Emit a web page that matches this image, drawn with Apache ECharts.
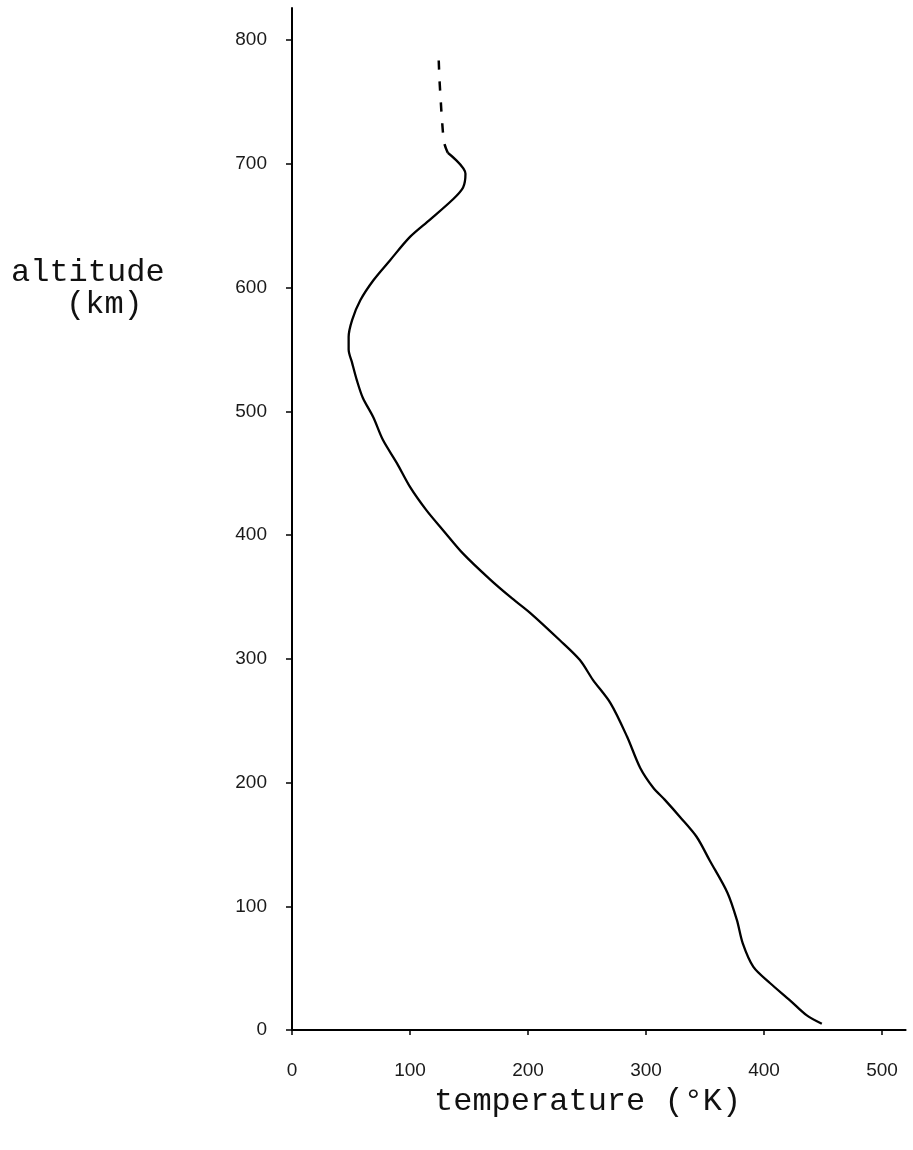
<!DOCTYPE html>
<html>
<head>
<meta charset="utf-8">
<style>
  html, body { margin: 0; padding: 0; background: #fff; }
  #chart { width: 913px; height: 1150px; }
</style>
<script src="https://cdn.jsdelivr.net/npm/echarts@6/dist/echarts.min.js"></script>
</head>
<body>
<div id="chart"></div>
<script>
// Temperature profile with altitude (solid part, measured)
const altitudeSolid = [5, 12, 24, 38, 51, 70, 89, 111, 137, 156, 172, 186, 196, 212, 237, 264, 283, 299, 315, 337, 350, 364, 385, 404, 420, 439, 458, 477, 495, 511, 525, 539, 550, 560, 574, 590, 606, 622, 641, 655, 671, 681, 692, 709];
const temperatureSolid = [449, 436, 422, 405, 391, 382, 377, 369, 354, 343, 329, 316, 306, 295, 284, 270, 255, 244, 227, 202, 185, 168, 145, 128, 114, 100, 89, 77, 69, 60, 55, 51, 48, 48, 51, 58, 69, 83, 100, 117, 136, 145, 147, 132];

// Upper extension (dashed, extrapolated)
const altitudeDashed = [709, 717, 737, 752, 768, 793];
const temperatureDashed = [132, 129, 127, 126, 125, 124];

// Tick values
const xTicks = [0, 100, 200, 300, 400, 500];
const yTicks = [0, 100, 200, 300, 400, 500, 600, 700, 800];

const toPairs = (xs, ys) => xs.map((x, i) => [x, ys[i]]);

const chart = echarts.init(document.getElementById('chart'), null, { renderer: 'canvas' });

const labelFont = {
  color: '#1a1a1a',
  fontFamily: 'Liberation Sans',
  fontSize: 19
};
const monoFont = 'Liberation Mono';

chart.setOption({
  animation: false,
  backgroundColor: '#ffffff',
  grid: { left: 292, top: 8, width: 613.6, height: 1022 },
  xAxis: {
    type: 'value',
    min: 0,
    max: 520,
    splitLine: { show: false },
    axisLine: { show: true, onZero: false, lineStyle: { color: '#000', width: 2 } },
    axisTick: { show: true, length: 5, customValues: xTicks, lineStyle: { color: '#000', width: 1.5 } },
    axisLabel: Object.assign({ margin: 31, customValues: xTicks }, labelFont)
  },
  yAxis: {
    type: 'value',
    min: 0,
    max: 826,
    splitLine: { show: false },
    axisLine: { show: true, onZero: false, lineStyle: { color: '#000', width: 2 } },
    axisTick: { show: true, length: 6, customValues: yTicks, lineStyle: { color: '#000', width: 1.5 } },
    axisLabel: Object.assign({ margin: 25, customValues: yTicks }, labelFont)
  },
  graphic: [
    {
      type: 'text',
      left: 11,
      top: 257,
      style: { text: 'altitude', font: '32px "' + monoFont + '"', fill: '#111' }
    },
    {
      type: 'text',
      left: 66,
      top: 289,
      style: { text: '(km)', font: '32px "' + monoFont + '"', fill: '#111' }
    },
    {
      type: 'text',
      left: 434,
      top: 1086,
      style: { text: 'temperature (°K)', font: '32px "' + monoFont + '"', fill: '#111' }
    }
  ],
  series: [
    {
      type: 'line',
      data: toPairs(temperatureSolid, altitudeSolid),
      showSymbol: false,
      smooth: 0.3,
      lineStyle: { color: '#000', width: 2.3 }
    },
    {
      type: 'line',
      data: toPairs(temperatureDashed, altitudeDashed),
      showSymbol: false,
      smooth: 0.3,
      lineStyle: { color: '#000', width: 2.5, type: [9, 12] }
    }
  ]
});
</script>
</body>
</html>
